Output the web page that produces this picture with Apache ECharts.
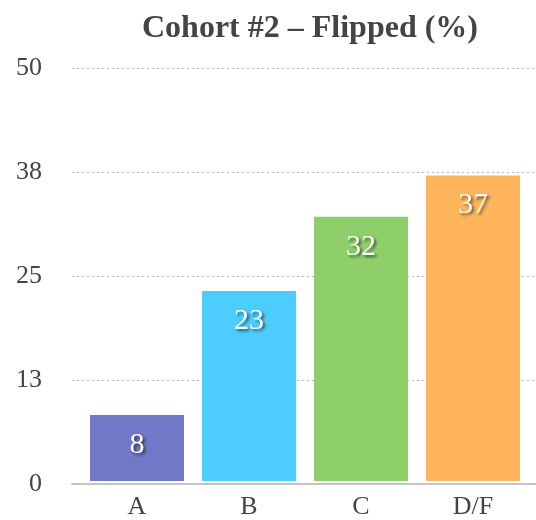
<!DOCTYPE html>
<html>
<head>
<meta charset="utf-8">
<script src="https://cdn.jsdelivr.net/npm/echarts@6/dist/echarts.min.js"></script>
<style>
  html, body { margin: 0; padding: 0; background: #fff; }
  #chart { width: 536px; height: 520px; }
</style>
</head>
<body>
<div id="chart"></div>
<script>
const titleText = 'Cohort #2 \u2013 Flipped (%)';
const categories = ['A', 'B', 'C', 'D/F'];
const flipped = [8, 23, 32, 37];
const barColors = ['#7078c8', '#4dcdff', '#8ecf6b', '#ffb55b'];
const yMin = 0;
const yMax = 50;
const yStep = 12.5;

const serif = '"Liberation Serif", "Times New Roman", serif';
const textGrey = '#444';

const chart = echarts.init(document.getElementById('chart'), null, { renderer: 'canvas' });
chart.setOption({
  animation: false,
  title: {
    text: titleText,
    left: 305,
    textAlign: 'center',
    top: 8,
    textStyle: { fontFamily: serif, fontWeight: 'bold', fontSize: 32, color: textGrey }
  },
  // grid 0: value scale, dotted guides and the baseline; grid 1: the bars and their categories
  grid: [
    { left: 72, right: 0, top: 68, bottom: 36 },
    { left: 81, right: 7, top: 68, bottom: 36 }
  ],
  xAxis: [
    {
      gridIndex: 0,
      type: 'category',
      data: categories,
      axisLine: { lineStyle: { color: '#c4c4c4', width: 2 } },
      axisTick: { show: false },
      axisLabel: { show: false }
    },
    {
      gridIndex: 1,
      type: 'category',
      data: categories,
      axisLine: { show: false },
      axisTick: { show: false },
      axisLabel: { fontFamily: serif, fontSize: 26, color: textGrey, margin: 13 }
    }
  ],
  yAxis: [
    {
      gridIndex: 0,
      type: 'value',
      min: yMin,
      max: yMax,
      interval: yStep,
      axisLine: { show: false },
      axisTick: { show: false },
      axisLabel: {
        fontFamily: serif, fontSize: 26, color: textGrey, margin: 30,
        formatter: v => String(Math.round(v))
      },
      splitLine: { lineStyle: { color: '#b8b8b8', type: [2, 3], width: 1 } }
    },
    {
      gridIndex: 1,
      type: 'value',
      min: yMin,
      max: yMax,
      interval: yStep,
      show: false,
      splitLine: { show: false }
    }
  ],
  series: [{
    type: 'bar',
    xAxisIndex: 1,
    yAxisIndex: 1,
    data: flipped.map((v, i) => ({ value: v, itemStyle: { color: barColors[i] } })),
    barWidth: 94,
    label: {
      show: true,
      position: 'insideTop',
      distance: 15,
      fontFamily: serif,
      fontSize: 30,
      color: '#fff',
      textShadowColor: 'rgba(0,0,0,0.6)',
      textShadowBlur: 3,
      textShadowOffsetX: 2,
      textShadowOffsetY: 2
    }
  }]
});
</script>
</body>
</html>
